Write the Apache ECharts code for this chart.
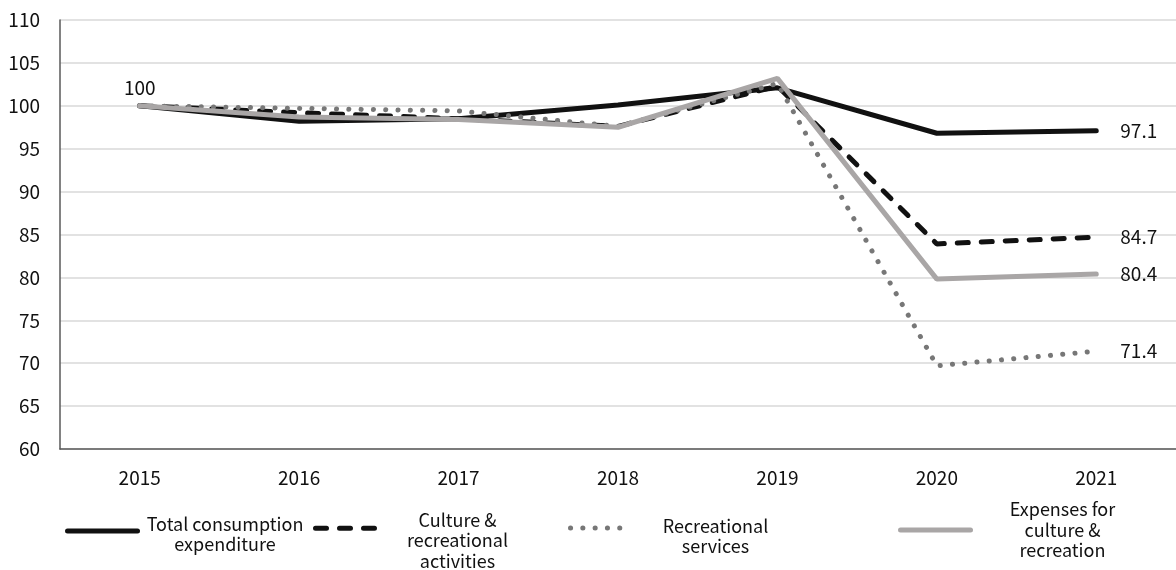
<!DOCTYPE html>
<html>
<head>
<meta charset="utf-8">
<script src="https://cdn.jsdelivr.net/npm/echarts@6/dist/echarts.min.js"></script>
<style>
  html, body { margin: 0; padding: 0; background: #fff; }
  #chart { width: 1176px; height: 570px; }
</style>
</head>
<body>
<div id="chart"></div>
<script>
// Index values, 2015 = 100
const years = ['2015', '2016', '2017', '2018', '2019', '2020', '2021'];
const seriesNames = [
  'Total consumption expenditure',
  'Culture & recreational activities',
  'Recreational services',
  'Expenses for culture & recreation'
];
const legendLabels = [
  'Total consumption\nexpenditure',
  'Culture &\nrecreational\nactivities',
  'Recreational\nservices',
  'Expenses for\nculture &\nrecreation'
];
const totalConsumption     = [100, 98.2, 98.5, 100.1, 102.1, 96.8, 97.1];
const cultureActivities    = [100, 99.2, 98.5, 97.6, 102.3, 83.9, 84.7];
const recreationalServices = [100, 99.7, 99.4, 97.6, 102.6, 69.7, 71.4];
const cultureExpenses      = [100, 98.7, 98.4, 97.5, 103.2, 79.8, 80.4];
const yMin = 60, yMax = 110, yStep = 5;

const FONT = '"Noto Sans CJK JP", "Noto Sans", sans-serif';

const styles = [
  { color: '#111111', width: 5, type: 'solid', cap: 'round' },
  { color: '#111111', width: 5, type: [11, 13], cap: 'round' },
  { color: '#777777', width: 5, type: [0.1, 12.2], cap: 'round' },
  { color: '#a9a6a6', width: 5, type: 'solid', cap: 'round' }
];
const values = [totalConsumption, cultureActivities, recreationalServices, cultureExpenses];

const series = values.map((vals, i) => ({
  name: seriesNames[i],
  type: 'line',
  data: vals,
  symbol: 'none',
  silent: true,
  z: 2 + i,
  lineStyle: styles[i],
  itemStyle: { color: styles[i].color },
  // value of the latest year at the right end of each line
  endLabel: {
    show: true,
    distance: 24,
    color: '#111',
    fontSize: 19,
    fontFamily: FONT,
    formatter: p => String(p.value)
  },
  animation: false
}));

// "100" marker at the base year
series[0].markPoint = {
  symbol: 'circle',
  symbolSize: 0,
  data: [{ coord: [0, totalConsumption[0]] }],
  label: {
    show: true,
    position: 'top',
    distance: 9,
    color: '#111',
    fontSize: 19,
    fontFamily: FONT,
    formatter: () => String(totalConsumption[0])
  }
};

// one legend block per series so each sits at its own place along the bottom;
// the spacer line (height `lift`) drops the text block below the line sample
const legendSpec = [
  { left: 65,  top: 510,   iconW: 70, boxW: 165, lift: 6 },
  { left: 313, top: 497,   iconW: 62, boxW: 150, lift: 24 },
  { left: 568, top: 507,   iconW: 60, boxW: 160, lift: 16 },
  { left: 898, top: 500.5, iconW: 70, boxW: 174, lift: 0 }
];
const legends = legendSpec.map((s, i) => ({
  data: [seriesNames[i]],
  left: s.left,
  top: s.top,
  itemWidth: s.iconW,
  itemHeight: 14,
  selectedMode: false,
  padding: 0,
  lineStyle: { width: 5 },
  itemStyle: { opacity: 0 },
  formatter: name => {
    const lines = legendLabels[seriesNames.indexOf(name)].split('\n').map(l => '{t|' + l + '}');
    return (s.lift ? '{p| }\n' : '') + lines.join('\n');
  },
  textStyle: {
    rich: {
      p: { fontSize: 1, lineHeight: s.lift, width: s.boxW },
      t: {
        width: s.boxW,
        align: 'center',
        fontSize: 18,
        lineHeight: 20.5,
        color: '#111',
        fontFamily: FONT
      }
    }
  }
}));

const chart = echarts.init(document.getElementById('chart'), null, { renderer: 'canvas' });
chart.setOption({
  backgroundColor: '#ffffff',
  animation: false,
  grid: { left: 60, right: -7, top: 20, bottom: 121 },
  legend: legends,
  xAxis: {
    type: 'category',
    data: years,
    boundaryGap: true,
    axisLine: { show: true, lineStyle: { color: '#595959', width: 1.5 } },
    axisTick: { show: false },
    axisLabel: { color: '#111', fontSize: 19, fontFamily: FONT, margin: 19 },
    splitLine: { show: false }
  },
  yAxis: {
    type: 'value',
    min: yMin,
    max: yMax,
    interval: yStep,
    axisLine: { show: true, lineStyle: { color: '#595959', width: 1.5 } },
    axisTick: { show: false },
    axisLabel: { color: '#111', fontSize: 19, fontFamily: FONT, margin: 20 },
    splitLine: { show: true, lineStyle: { color: '#d9d9d9', width: 1.5 } }
  },
  series: series
});
</script>
</body>
</html>
